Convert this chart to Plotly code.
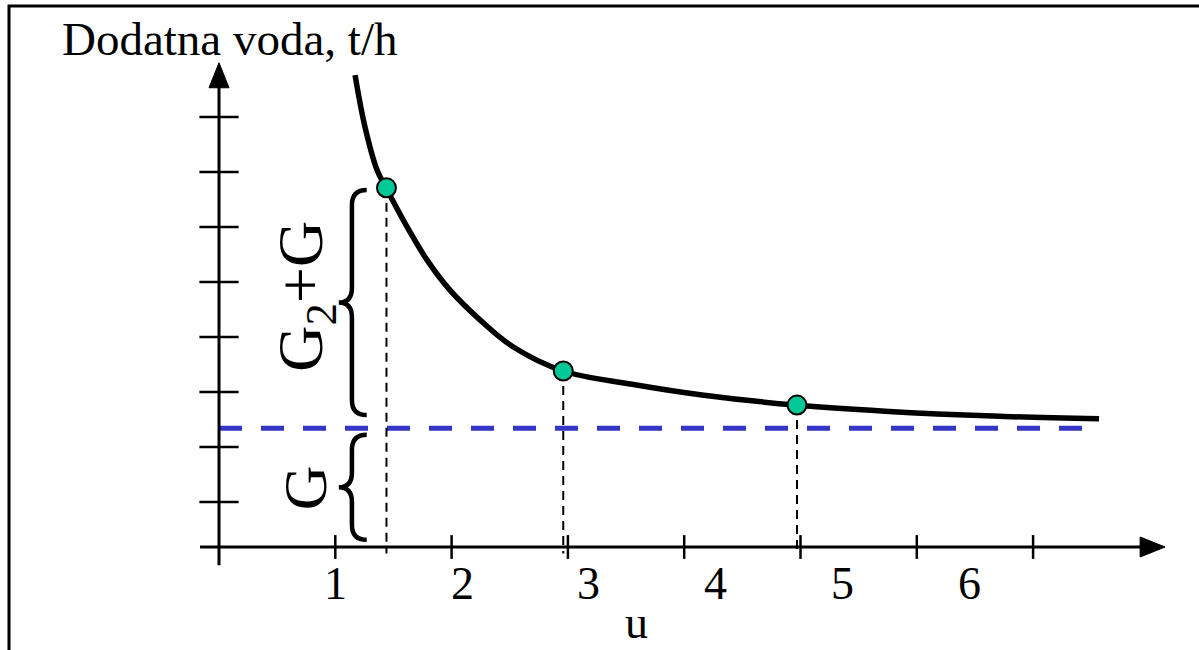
import plotly.graph_objects as go

# ---- data ----
u_curve = [1.17, 1.255, 1.36, 1.436, 1.617, 1.788, 1.986, 2.244, 2.528, 2.958,
           3.551, 4.17, 4.961, 5.727, 6.655, 7.567]
g_curve = [8.58, 7.64, 6.85, 6.53, 5.82, 5.22, 4.67, 4.13, 3.64, 3.20,
           2.96, 2.76, 2.58, 2.47, 2.38, 2.33]
u_points = [1.44, 2.96, 4.97]
g_points = [6.53, 3.20, 2.58]
g_base = 2.16          # G level (blue dashed)
base_end = 7.45
x_ticks = [1, 2, 3, 4, 5, 6, 7]
x_tick_labels = ["1", "2", "3", "4", "5", "6"]
y_ticks = [0.82, 1.82, 2.82, 3.82, 4.82, 5.82, 6.82, 7.82]

FONT = "Liberation Serif, Times New Roman, serif"

fig = go.Figure()

# blue dashed G line
fig.add_shape(type="line", x0=0, x1=base_end, y0=g_base, y1=g_base,
              line=dict(color="#3535c8", width=5, dash="23px,19px"), layer="below")

# dashed verticals
for u, g in zip(u_points, g_points):
    fig.add_shape(type="line", x0=u, x1=u, y0=g, y1=-0.12,
                  line=dict(color="black", width=2, dash="9px,6px"), layer="below")

# axes lines
fig.add_shape(type="line", x0=-0.163, x1=7.95, y0=0, y1=0,
              line=dict(color="black", width=3))
fig.add_shape(type="line", x0=0, x1=0, y0=-0.33, y1=8.4,
              line=dict(color="black", width=3))
# arrowheads (pixel-sized)
fig.add_shape(type="path", xsizemode="pixel", ysizemode="pixel",
              xanchor=7.92, yanchor=0, path="M0,-10 L25,0 L0,10 Z",
              fillcolor="black", line=dict(color="black", width=1))
fig.add_shape(type="path", xsizemode="pixel", ysizemode="pixel",
              xanchor=0, yanchor=8.35, path="M-10,0 L10,0 L0,25 Z",
              fillcolor="black", line=dict(color="black", width=1))

# tick marks
fig.add_trace(go.Scatter(x=x_ticks, y=[0] * len(x_ticks), mode="markers",
                         marker=dict(symbol="line-ns", size=17,
                                     line=dict(color="black", width=2.5)),
                         hoverinfo="skip"))
fig.add_trace(go.Scatter(x=[0] * len(y_ticks), y=y_ticks, mode="markers",
                         marker=dict(symbol="line-ew", size=28,
                                     line=dict(color="black", width=2.5)),
                         hoverinfo="skip"))

# curve
fig.add_trace(go.Scatter(x=u_curve, y=g_curve, mode="lines",
                         line=dict(color="black", width=5.5, shape="spline"),
                         hoverinfo="skip"))
# points
fig.add_trace(go.Scatter(x=u_points, y=g_points, mode="markers",
                         marker=dict(size=19, color="#00c896",
                                     line=dict(color="black", width=2)),
                         hoverinfo="skip"))


def brace(ytop, ybot, xs=1.143, xe=1.27, xt=1.03, r=0.27):
    ymid = (ytop + ybot) / 2
    return (f"M{xe},{ytop} Q{xs},{ytop} {xs},{ytop - r} L{xs},{ymid + r} "
            f"Q{xs},{ymid} {xt},{ymid} Q{xs},{ymid} {xs},{ymid - r} "
            f"L{xs},{ybot + r} Q{xs},{ybot} {xe},{ybot}")


fig.add_shape(type="path", path=brace(g_points[0] - 0.04, g_base + 0.24),
              line=dict(color="black", width=4.5))
fig.add_shape(type="path", path=brace(g_base - 0.12, 0.13),
              line=dict(color="black", width=4.5))

# rotated labels
fig.add_annotation(x=0.74, y=4.55, text="G<sub>2</sub>+G", textangle=-90,
                   showarrow=False, font=dict(family=FONT, size=64, color="black"))
fig.add_annotation(x=0.74, y=1.07, text="G", textangle=-90,
                   showarrow=False, font=dict(family=FONT, size=62, color="black"))

# x tick labels (drift slightly right as in the original)
for i, lab in enumerate(x_tick_labels):
    v = x_ticks[i]
    fig.add_annotation(x=v + 0.09 * (v - 1), y=-0.67, text=lab, showarrow=False,
                       font=dict(family=FONT, size=46, color="black"))
fig.add_annotation(x=3.59, y=0, xref="x", yref="paper", yanchor="bottom",
                   text="u", showarrow=False,
                   font=dict(family=FONT, size=46, color="black"))

# y title
fig.add_annotation(x=60 / 1199, y=1 - 39 / 650, xref="paper", yref="paper",
                   xanchor="left", yanchor="middle", text="Dodatna voda, t/h",
                   showarrow=False, font=dict(family=FONT, size=47, color="black"))

# frame (left and top edges)
fig.add_shape(type="rect", xref="paper", yref="paper",
              x0=9 / 1199, x1=1.02, y0=-0.05, y1=1 - 6 / 650,
              line=dict(color="black", width=3))

fig.update_layout(
    width=1199, height=650,
    margin=dict(l=0, r=0, t=0, b=0),
    paper_bgcolor="white", plot_bgcolor="white",
    showlegend=False,
    xaxis=dict(range=[-219 / 116.3, (1199 - 219) / 116.3], visible=False, fixedrange=True),
    yaxis=dict(range=[(547 - 650) / 55, 547 / 55], visible=False, fixedrange=True),
)

fig.write_html("out.html",
               config={"displayModeBar": False},
               post_script="document.body.style.margin='0px';"
                           "document.body.style.overflow='hidden';")
